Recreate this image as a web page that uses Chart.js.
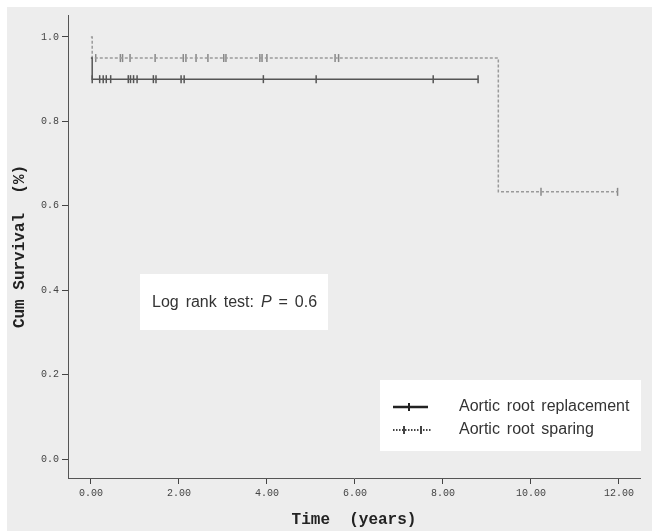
<!DOCTYPE html>
<html>
<head>
<meta charset="utf-8">
<script src="https://cdn.jsdelivr.net/npm/chart.js@4.4.1/dist/chart.umd.min.js"></script>
<style>
  html, body { margin: 0; padding: 0; background: #fff; }
  #wrap { position: relative; width: 652px; height: 531px; }
</style>
</head>
<body>
<div id="wrap"><canvas id="km"></canvas></div>
<script>
// Kaplan-Meier steps (time in years, cum survival)
const replStepTimes = [0, 0.03, 8.8];
const replStepSurv = [0.95, 0.9, 0.9];
const sparStepTimes = [0, 0.03, 9.26, 11.97];
const sparStepSurv = [1.0, 0.95, 0.633, 0.633];

// censored cases, drawn as + marks on the curve
const replCensorTimes = [0.03, 0.2, 0.28, 0.35, 0.45, 0.85, 0.9, 0.97, 1.05, 1.42, 1.48, 2.05, 2.12, 3.92, 5.12, 7.78, 8.8];
const sparCensorTimes = [0.11, 0.67, 0.72, 0.89, 1.46, 2.1, 2.16, 2.39, 2.66, 3.02, 3.07, 3.84, 3.89, 4.0, 5.55, 5.63, 10.23, 11.97];

const groupLabels = ['Aortic root replacement', 'Aortic root sparing'];
const xTicks = [0, 2, 4, 6, 8, 10, 12];
const yTicks = [0, 0.2, 0.4, 0.6, 0.8, 1.0];
const logRankP = '0.6';

const solidColor = '#555';
const dashColor = '#9a9a9a';

function survAt(t, times, surv) {
    let s = surv[0];
    for (let i = 0; i < times.length; i++) if (times[i] <= t) s = surv[i];
    return s;
}
const toPts = (times, surv) => times.map((t, i) => ({ x: t, y: surv[i] }));
const censorPts = (ct, times, surv) => ct.map(t => ({ x: t, y: survAt(t, times, surv) }));

// gray panel behind everything
const panelBg = {
    id: 'panelBg',
    beforeDraw(chart) {
        const c = chart.ctx;
        c.save();
        c.fillStyle = '#fff';
        c.fillRect(0, 0, chart.width, chart.height);
        c.fillStyle = '#ededed';
        c.fillRect(7, 7, chart.width - 7, chart.height - 7);
        c.restore();
    }
};

// log rank box + legend box
const boxes = {
    id: 'boxes',
    afterDraw(chart) {
        const c = chart.ctx;
        c.save();
        c.fillStyle = '#fff';
        c.fillRect(140, 274, 188, 56);
        c.fillRect(380, 380, 261, 71);

        c.fillStyle = '#333';
        c.textBaseline = 'alphabetic';
        c.wordSpacing = '2.5px';
        c.font = '16px "Liberation Sans", Arial, sans-serif';
        let x = 152;
        const part1 = 'Log rank test: ';
        c.fillText(part1, x, 307);
        x += c.measureText(part1).width;
        c.font = 'italic 16px "Liberation Sans", Arial, sans-serif';
        c.fillText('P', x, 307);
        x += c.measureText('P').width;
        c.font = '16px "Liberation Sans", Arial, sans-serif';
        c.fillText(' = ' + logRankP, x, 307);

        // legend rows
        c.fillText(groupLabels[0], 459, 411);
        c.fillText(groupLabels[1], 459, 434);

        c.strokeStyle = '#222';
        c.lineWidth = 2.5;
        c.beginPath(); c.moveTo(393, 407); c.lineTo(428, 407); c.stroke();
        c.lineWidth = 2;
        c.beginPath(); c.moveTo(409, 403); c.lineTo(409, 411); c.stroke();

        c.strokeStyle = '#444';
        c.setLineDash([1.5, 1.5]);
        c.beginPath(); c.moveTo(393, 430); c.lineTo(432, 430); c.stroke();
        c.setLineDash([]);
        [404, 421].forEach(px => {
            c.beginPath(); c.moveTo(px, 426); c.lineTo(px, 434); c.stroke();
        });
        c.restore();
    }
};

Chart.defaults.font.family = '"Liberation Mono", "DejaVu Sans Mono", monospace';

new Chart(document.getElementById('km'), {
    type: 'scatter',
    data: {
        datasets: [
            {
                label: groupLabels[0],
                data: toPts(replStepTimes, replStepSurv),
                showLine: true,
                stepped: 'before',
                borderColor: solidColor,
                borderWidth: 1.5,
                pointRadius: 0
            },
            {
                label: groupLabels[1],
                data: toPts(sparStepTimes, sparStepSurv),
                showLine: true,
                stepped: 'before',
                borderColor: dashColor,
                borderWidth: 1.5,
                borderDash: [3, 2],
                pointRadius: 0
            },
            {
                label: groupLabels[0] + ' censored',
                data: censorPts(replCensorTimes, replStepTimes, replStepSurv),
                pointStyle: 'line',
                rotation: 90,
                radius: 4,
                borderColor: solidColor,
                borderWidth: 1.5
            },
            {
                label: groupLabels[1] + ' censored',
                data: censorPts(sparCensorTimes, sparStepTimes, sparStepSurv),
                pointStyle: 'line',
                rotation: 90,
                radius: 4,
                borderColor: '#888',
                borderWidth: 1.5
            }
        ]
    },
    options: {
        responsive: true,
        maintainAspectRatio: false,
        animation: false,
        events: [],
        layout: { padding: { top: 15, right: 12, left: 0, bottom: 0 } },
        plugins: { legend: { display: false }, tooltip: { enabled: false } },
        scales: {
            x: {
                type: 'linear',
                min: -0.52,
                max: 12.48,
                afterBuildTicks: s => { s.ticks = xTicks.map(v => ({ value: v })); },
                afterFit: s => { s.height = 53; },
                border: { color: '#555', width: 1 },
                grid: { drawOnChartArea: false, drawTicks: true, tickLength: 6, color: '#444' },
                ticks: { padding: 3, color: '#444', font: { size: 10 }, callback: v => v.toFixed(2), maxRotation: 0 },
                title: { display: true, text: 'Time  (years)', color: '#222', font: { size: 16, weight: 'bold' }, padding: { top: 0, bottom: 1 } }
            },
            y: {
                min: -0.045,
                max: 1.052,
                afterBuildTicks: s => { s.ticks = yTicks.map(v => ({ value: v })); },
                afterFit: s => { s.width = 68; },
                border: { color: '#555', width: 1 },
                grid: { drawOnChartArea: false, drawTicks: true, tickLength: 6, color: '#444' },
                ticks: { padding: 3, color: '#444', font: { size: 10 }, callback: v => v.toFixed(1) },
                title: { display: true, text: 'Cum Survival  (%)', color: '#222', font: { size: 16, weight: 'bold' }, padding: { top: 10, bottom: 0 } }
            }
        }
    },
    plugins: [panelBg, boxes]
});
</script>
</body>
</html>
